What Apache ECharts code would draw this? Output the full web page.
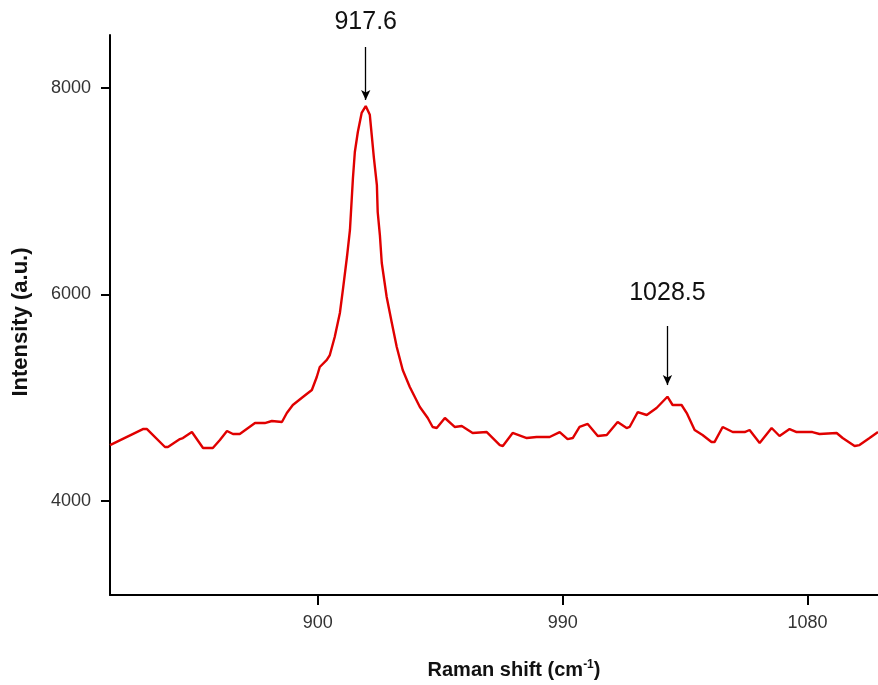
<!DOCTYPE html>
<html>
<head>
<meta charset="utf-8">
<script src="https://cdn.jsdelivr.net/npm/echarts@6/dist/echarts.min.js"></script>
<style>
  html, body { margin: 0; padding: 0; background: #fff; }
  #chart { width: 878px; height: 685px; }
</style>
</head>
<body>
<div id="chart"></div>
<script>
// Raman shift (cm-1) values
const ramanShift = [
  823.6, 835.7, 837.2, 843.8, 844.9, 849.3, 850.4, 853.7, 857.8, 861.4,
  864.0, 866.6, 868.8, 871.3, 876.9, 880.5, 883.1, 886.8, 888.6, 890.8,
  894.5, 897.8, 899.6, 900.7, 903.3, 904.4, 906.2, 908.1, 909.2, 910.7,
  911.8, 912.9, 913.6, 914.7, 916.1, 917.6, 919.1, 919.8, 920.6, 921.7,
  922.0, 922.8, 923.5, 925.3, 927.2, 929.0, 931.2, 933.8, 937.5, 940.4,
  942.2, 943.7, 946.7, 950.3, 952.9, 956.9, 962.1, 966.9, 968.0, 971.6,
  976.8, 980.4, 985.2, 988.9, 991.8, 993.7, 996.2, 999.2, 1002.9, 1006.2,
  1010.2, 1013.5, 1014.6, 1017.6, 1020.9, 1024.5, 1028.5, 1030.4, 1033.7, 1035.6,
  1038.5, 1041.4, 1044.7, 1045.8, 1048.8, 1052.5, 1056.9, 1058.7, 1062.4, 1063.1,
  1066.8, 1069.7, 1073.4, 1076.0, 1081.8, 1084.4, 1090.7, 1092.9, 1097.3, 1099.1,
  1102.8, 1105.9
];
// Intensity (a.u.)
const intensity = [
  4542, 4697, 4697, 4523, 4523, 4600, 4610, 4668, 4513, 4513,
  4591, 4678, 4649, 4649, 4755, 4755, 4775, 4765, 4852, 4930,
  5007, 5075, 5201, 5298, 5366, 5414, 5588, 5821, 6044, 6363,
  6625, 7128, 7380, 7574, 7758, 7825, 7740, 7545, 7322, 7060,
  6799, 6576, 6305, 5976, 5724, 5492, 5269, 5104, 4910, 4804,
  4717, 4707, 4804, 4717, 4726, 4659, 4668, 4542, 4533, 4659,
  4610, 4620, 4620, 4668, 4600, 4610, 4717, 4746, 4630, 4639,
  4765, 4707, 4717, 4862, 4833, 4901, 5010, 4930, 4930, 4852,
  4688, 4639, 4571, 4571, 4717, 4668, 4668, 4688, 4562, 4562,
  4707, 4630, 4697, 4668, 4668, 4649, 4659, 4610, 4533, 4542,
  4610, 4668
];
const xTicks = [900, 990, 1080];
const yTicks = [4000, 6000, 8000];
// Peak annotations: [position, label, arrow start, arrow tip]
const peakPos = [917.6, 1028.5];
const peakLabels = ['917.6', '1028.5'];
const arrowStart = [8397, 5695];
const arrowTip = [7884, 5123];
const labelDist = [12, 20];

const chart = echarts.init(document.getElementById('chart'), null, { renderer: 'canvas' });
const font = 'Arial, "Liberation Sans", sans-serif';

const markData = peakPos.map((p, i) => [
  { coord: [p, arrowStart[i]], label: { formatter: peakLabels[i], distance: labelDist[i] } },
  { coord: [p, arrowTip[i]] }
]);

chart.setOption({
  animation: false,
  backgroundColor: '#ffffff',
  grid: { left: 110, right: 0, top: 35, bottom: 90, containLabel: false, outerBoundsMode: 'none' },
  xAxis: {
    type: 'value',
    min: 823.6,
    max: 1105.9,
    name: '{a|Raman shift (cm}{s|-1}{a|)}',
    nameLocation: 'middle',
    nameGap: 64,
    nameTextStyle: {
      padding: [0, 0, 0, 40],
      rich: {
        a: { fontFamily: font, fontWeight: 'bold', fontSize: 20, color: '#111' },
        s: { fontFamily: font, fontWeight: 'bold', fontSize: 12, color: '#111', padding: [0, 0, 11, 0] }
      }
    },
    axisLine: { show: true, onZero: false, lineStyle: { color: '#000', width: 2 } },
    axisTick: { show: true, customValues: xTicks, length: 10, lineStyle: { color: '#000', width: 2 } },
    axisLabel: { customValues: xTicks, margin: 19, fontFamily: font, fontSize: 18, color: '#333',
      formatter: v => String(v) },
    splitLine: { show: false }
  },
  yAxis: {
    type: 'value',
    min: 3090,
    max: 8513,
    name: 'Intensity (a.u.)',
    nameLocation: 'middle',
    nameRotate: 90,
    nameGap: 78,
    nameTextStyle: { fontFamily: font, fontWeight: 'bold', fontSize: 22, color: '#111', padding: [0, 14, 0, 0] },
    axisLine: { show: true, onZero: false, lineStyle: { color: '#000', width: 2 } },
    axisTick: { show: true, customValues: yTicks, length: 9, lineStyle: { color: '#000', width: 2 } },
    axisLabel: { customValues: yTicks, margin: 19, fontFamily: font, fontSize: 18, color: '#333',
      formatter: v => String(v) },
    splitLine: { show: false }
  },
  series: [{
    type: 'line',
    data: ramanShift.map((x, i) => [x, intensity[i]]),
    showSymbol: false,
    clip: false,
    lineStyle: { color: '#e00000', width: 2.4 },
    markLine: {
      silent: true,
      symbol: ['none', 'arrow'],
      symbolSize: [7, 10],
      lineStyle: { color: '#000', width: 1.3, type: 'solid' },
      label: { show: true, position: 'start', fontFamily: font, fontSize: 25, color: '#111' },
      data: markData
    }
  }]
});
</script>
</body>
</html>
